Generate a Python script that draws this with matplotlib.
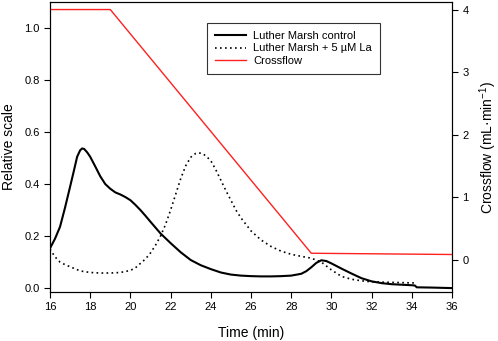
import matplotlib
matplotlib.use('Agg')
import matplotlib.pyplot as plt
from matplotlib.lines import Line2D

plt.rcParams['font.family'] = ['Liberation Sans', 'DejaVu Sans']
plt.rcParams['mathtext.fontset'] = 'custom'
plt.rcParams['mathtext.rm'] = 'Liberation Sans'
plt.rcParams['mathtext.it'] = 'Liberation Sans:italic'

# Luther Marsh control (solid)
t_ctrl = [16.0, 16.25, 16.5, 16.75, 17.0, 17.2, 17.35, 17.5, 17.6, 17.7, 17.85, 18.0, 18.25,
          18.5, 18.75, 19.0, 19.25, 19.5, 19.75, 20.0, 20.25, 20.5, 20.75, 21.0, 21.5, 22.0,
          22.5, 23.0, 23.5, 24.0, 24.5, 25.0, 25.5, 26.0, 26.5, 27.0, 27.5, 28.0, 28.5,
          28.75, 29.0, 29.25, 29.5, 29.75, 30.0, 30.5, 31.0, 31.5, 32.0, 32.5, 33.0, 33.5,
          34.0, 34.15, 34.25, 35.0, 35.5, 36.0]
y_ctrl = [0.153, 0.19, 0.236, 0.31, 0.39, 0.455, 0.505, 0.53, 0.537, 0.535, 0.522, 0.505,
          0.468, 0.43, 0.40, 0.382, 0.368, 0.36, 0.35, 0.338, 0.32, 0.30, 0.278, 0.255, 0.21,
          0.173, 0.138, 0.108, 0.088, 0.073, 0.06, 0.052, 0.048, 0.046, 0.045, 0.045, 0.046,
          0.048, 0.055, 0.065, 0.08, 0.097, 0.107, 0.104, 0.095, 0.075, 0.056, 0.038, 0.026,
          0.019, 0.015, 0.013, 0.011, 0.010, 0.003, 0.002, 0.001, 0.0]

# Luther Marsh + 5 uM La (dotted)
t_la = [16.0, 16.25, 16.5, 16.75, 17.0, 17.5, 18.0, 18.5, 19.0, 19.5, 20.0, 20.25, 20.5, 20.75,
        21.0, 21.25, 21.5, 21.75, 22.0, 22.25, 22.5, 22.75, 23.0, 23.25, 23.4, 23.6, 23.8,
        24.0, 24.25, 24.5, 24.75, 25.0, 25.25, 25.5, 26.0, 26.5, 27.0, 27.5, 28.0, 28.5, 29.0,
        29.5, 30.0, 30.5, 31.0, 31.5, 32.0, 33.0, 34.0, 34.15]
y_la = [0.15, 0.12, 0.10, 0.09, 0.082, 0.066, 0.06, 0.058, 0.058, 0.06, 0.068, 0.078, 0.095,
        0.112, 0.135, 0.165, 0.20, 0.245, 0.30, 0.36, 0.42, 0.47, 0.503, 0.518, 0.52, 0.517,
        0.505, 0.49, 0.455, 0.415, 0.375, 0.338, 0.30, 0.27, 0.22, 0.185, 0.16, 0.142, 0.13,
        0.122, 0.115, 0.10, 0.07, 0.045, 0.034, 0.028, 0.024, 0.022, 0.02, 0.02]

# Crossflow (right axis)
t_flow = [16, 19, 29, 36]
flow = [4.0, 4.0, 0.1, 0.08]

fig = plt.figure(figsize=(4.98, 3.41), dpi=100)
ax = fig.add_axes([0.1004, 0.1437, 0.8072, 0.8503])
ax2 = ax.twinx()

ax.plot(t_ctrl, y_ctrl, color="black", lw=1.5, zorder=3)
ax.plot(t_la, y_la, color="black", lw=1.2, ls=(0, (1, 2)), zorder=3)
ax2.plot(t_flow, flow, color="#ff2020", lw=1.0)

ax.set_xlim(16, 36)
ax.set_ylim(-0.015, 1.10)
ax2.set_ylim(-0.52, 4.12)
ax.set_xticks(range(16, 37, 2))
ax.set_yticks([0.0, 0.2, 0.4, 0.6, 0.8, 1.0])
ax.set_yticklabels(["0.0", "0.2", "0.4", "0.6", "0.8", "1.0"])
ax2.set_yticks([0, 1, 2, 3, 4])

for a in (ax, ax2):
    a.tick_params(direction="out", length=4, width=0.8, labelsize=8)
    for s in a.spines.values():
        s.set_linewidth(0.8)

ax.set_xlabel("Time (min)", fontsize=10, labelpad=10)
ax.set_ylabel("Relative scale", fontsize=10, labelpad=6)
ax2.set_ylabel("Crossflow (mL\u00b7min$^{-1}$)", fontsize=10, labelpad=6)

handles = [
    Line2D([], [], color="black", lw=1.5),
    Line2D([], [], color="black", lw=1.2, ls=(0, (1, 2))),
    Line2D([], [], color="#ff2020", lw=1.0),
]
labels = ["Luther Marsh control", "Luther Marsh + 5 \u00b5M La", "Crossflow"]
leg = ax.legend(handles, labels, loc="upper left", bbox_to_anchor=(0.39, 0.928),
                borderaxespad=0, fontsize=8, frameon=True, fancybox=False,
                edgecolor="black", handlelength=2.8, labelspacing=0.2,
                borderpad=0.75, handletextpad=0.6)
leg.get_frame().set_linewidth(0.8)
leg.set_zorder(5)

fig.savefig("out.png", dpi=100)
